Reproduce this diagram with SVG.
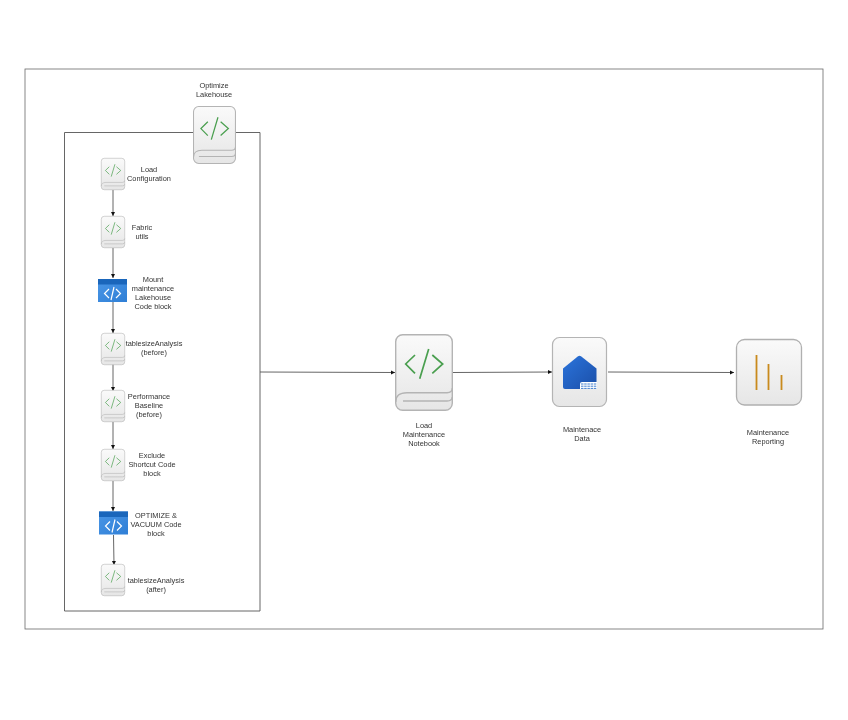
<svg xmlns="http://www.w3.org/2000/svg" width="848" height="720" viewBox="0 0 848 720">
<style>
text{font-family:"Liberation Sans",Arial,sans-serif;font-size:7.4px;fill:#333;text-anchor:middle;filter:url(#soft)}
.frame{fill:none;stroke:#6a6a6a;stroke-width:.8}
.inner{fill:none;stroke:#555;stroke-width:.9}
.edge{fill:none;stroke:#555;stroke-width:.9;marker-end:url(#arrow)}
</style>
<defs>
<filter id="soft" x="-10%" y="-30%" width="120%" height="160%"><feGaussianBlur stdDeviation=".2"/></filter>
<linearGradient id="g" x1="0" y1="0" x2="0" y2="1"><stop offset="0" stop-color="#fafafa"/><stop offset="1" stop-color="#e6e6e6"/></linearGradient>
<linearGradient id="b" x1="0" y1="0" x2="1" y2="1"><stop offset="0" stop-color="#4a96e6"/><stop offset="1" stop-color="#2f7fd6"/></linearGradient>
<linearGradient id="h" x1="0" y1="0" x2="1" y2="1"><stop offset="0" stop-color="#2b74dc"/><stop offset="1" stop-color="#1b4fa8"/></linearGradient>
<marker id="arrow" markerUnits="userSpaceOnUse" markerWidth="5" markerHeight="5" refX="4" refY="2" orient="auto"><path d="M0 0L4 2L0 4z" fill="#111"/></marker>
<g id="book">
<rect x="0.7" y="0.7" width="56.600" height="75.600" rx="7" fill="url(#g)" stroke="#b4b4b4" stroke-width="1.400"/>
<path d="M57.300 54Q57.300 58.700 52 58.700H12Q0.700 58.700 0.700 68" fill="none" stroke="#b4b4b4" stroke-width="1.400"/>
<path d="M8 67H52Q57 67 57.300 63" fill="none" stroke="#b4b4b4" stroke-width="1.400"/>
<path d="M20 21L10.700 30L20 39.300M37.300 21L47.700 30L37.300 39.300M33.700 15L24.700 44.700" fill="none" stroke="#4a9f4f" stroke-width="1.700"/>
</g>
<g id="code">
<rect x="0" y="0" width="29" height="23" fill="url(#b)"/>
<rect x="0" y="0" width="29" height="5.500" fill="#1a66bb"/>
<path d="M11 10L6.500 14.500L11 19M18 10L22.500 14.500L18 19M16 8L13 21" fill="none" stroke="#fff" stroke-width="1.200"/>
</g>
</defs>
<rect width="848" height="720" fill="#fff"/>
<rect class="frame" x="25" y="69" width="798" height="560"/>
<path class="inner" d="M193 132.500H64.500V611H260V132.500H236"/>
<g id="connectors">
<path class="edge" d="M113 190V216"/>
<path class="edge" d="M113 248V278"/>
<path class="edge" d="M113 302V333"/>
<path class="edge" d="M113 364V391"/>
<path class="edge" d="M113 422V449"/>
<path class="edge" d="M113 481V511"/>
<path class="edge" d="M113.500 535L114 565"/>
<path class="edge" d="M260 372L395 372.500"/>
<path class="edge" d="M453 372.500L552 372"/>
<path class="edge" d="M608 372L734 372.500"/>
</g>
<g id="optimize-lakehouse"><use href="#book" transform="translate(193 106) scale(.741 .753)"/><text x="214" y="88">Optimize</text><text x="214" y="97">Lakehouse</text></g>
<g id="load-configuration"><use href="#book" transform="translate(101 158) scale(.414 .416)"/><text x="149" y="172">Load</text><text x="149" y="181">Configuration</text></g>
<g id="fabric-utils"><use href="#book" transform="translate(101 216) scale(.414 .416)"/><text x="142" y="230">Fabric</text><text x="142" y="239">utils</text></g>
<g id="mount-maintenance"><use href="#code" transform="translate(98 279)"/><text x="153" y="282">Mount</text><text x="153" y="291">maintenance</text><text x="153" y="300">Lakehouse</text><text x="153" y="309">Code block</text></g>
<g id="tablesize-before"><use href="#book" transform="translate(101 333) scale(.414 .416)"/><text x="154" y="346">tablesizeAnalysis</text><text x="154" y="355">(before)</text></g>
<g id="performance-baseline"><use href="#book" transform="translate(101 390) scale(.414 .416)"/><text x="149" y="399">Performance</text><text x="149" y="408">Baseline</text><text x="149" y="417">(before)</text></g>
<g id="exclude-shortcut"><use href="#book" transform="translate(101 449) scale(.414 .416)"/><text x="152" y="458">Exclude</text><text x="152" y="467">Shortcut Code</text><text x="152" y="476">block</text></g>
<g id="optimize-vacuum"><use href="#code" transform="translate(99 511.500)"/><text x="156" y="518">OPTIMIZE &amp;</text><text x="156" y="527">VACUUM Code</text><text x="156" y="536">block</text></g>
<g id="tablesize-after"><use href="#book" transform="translate(101 564) scale(.414 .416)"/><text x="156" y="583">tablesizeAnalysis</text><text x="156" y="592">(after)</text></g>
<g id="load-maintenance"><use href="#book" transform="translate(395 334)"/><text x="424" y="428">Load</text><text x="424" y="437">Maintenance</text><text x="424" y="446">Notebook</text></g>
<g id="maintenance-data">
<rect x="552.500" y="337.500" width="54" height="69" rx="7" fill="url(#g)" stroke="#b4b4b4" stroke-width="1.200"/>
<path d="M578 356.200Q579.500 355.200 581 356.200L596.500 368.500V389H565Q563 389 563 387V368.500z" fill="url(#h)"/>
<path d="M580 389V384Q580 382 582 382H597V389z" fill="#fff"/>
<path d="M581 384h16M581 386.200h16M581 388.400h16" stroke="#2b6fc9" stroke-width=".9" stroke-dasharray="2.500 .7" fill="none"/>
<text x="582" y="432">Maintenace</text><text x="582" y="441">Data</text>
</g>
<g id="maintenance-reporting">
<rect x="736.500" y="339.500" width="65" height="65.500" rx="8" fill="url(#g)" stroke="#b0b0b0" stroke-width="1.300"/>
<path d="M756.500 355V390M768.500 364V390M781.500 375V390" stroke="#c98a1d" stroke-width="1.800" fill="none"/>
<text x="768" y="435">Maintenance</text><text x="768" y="444">Reporting</text>
</g>
</svg>
